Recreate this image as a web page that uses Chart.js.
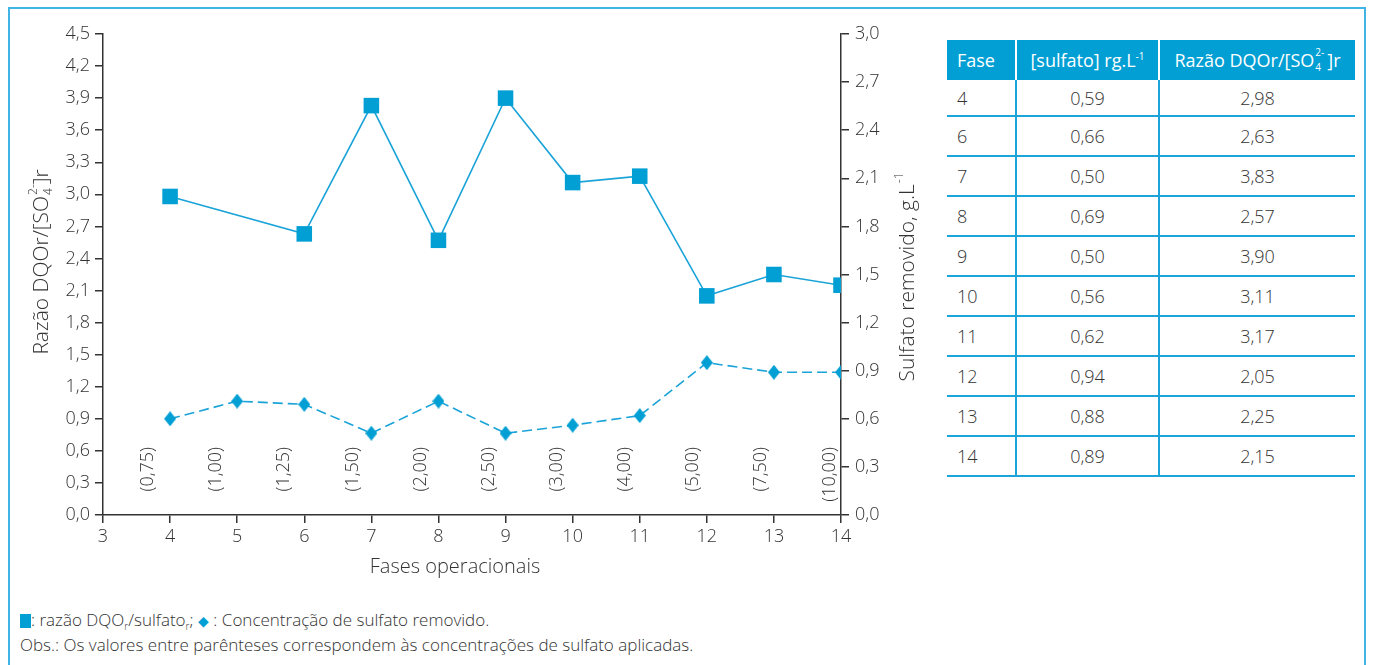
<!DOCTYPE html>
<html><head><meta charset="utf-8">
<script src="https://cdn.jsdelivr.net/npm/chart.js@4.4.1/dist/chart.umd.min.js"></script>
<style>
html,body{margin:0;padding:0;background:#fff;width:1375px;height:665px;overflow:hidden;font-family:"Open Sans",Lato,sans-serif;font-weight:300;color:#333;}
#frame{position:absolute;left:8px;top:7px;width:1358px;height:720px;border:2px solid #40b4e5;box-sizing:border-box;}
#chartBox{position:absolute;left:0;top:0;width:940px;height:600px;}
#tbl{position:absolute;left:947px;top:40px;border-collapse:separate;border-spacing:0;font-size:18px;font-weight:300;color:#333;}
#tbl th{background:#029fd4;color:#fff;font-weight:400;height:40px;padding:0;border-left:2px solid #fff;box-sizing:border-box;text-align:center;white-space:nowrap;}
#tbl th:first-child{border-left:none;text-align:left;padding-left:10px;}
#tbl td{height:40px;padding:0;border-bottom:2px solid #1ba3da;border-left:2px solid #1ba3da;text-align:center;box-sizing:border-box;}
#tbl td:first-child{border-left:none;text-align:left;padding-left:10px;}
#tbl tr.first td{height:37px;}
sup,sub{font-size:10px;line-height:0;position:relative;vertical-align:baseline;}
sup{top:-7px;} sub{top:4px;}
.stack{display:inline-block;position:relative;width:13px;height:10px;}
.stack .a{position:absolute;left:1px;top:-10px;font-size:10px;line-height:10px;}
.stack .b{position:absolute;left:1px;top:5px;font-size:10px;line-height:10px;}
#legend{position:absolute;left:20px;top:608px;font-size:17px;line-height:24px;color:#333;font-weight:300;}
.sq{display:inline-block;width:11px;height:14px;background:#029fd4;vertical-align:-2px;}
.dm{color:#029fd4;font-size:14px;}
</style>
</head><body>
<div id="frame"></div>
<div id="chartBox"><canvas id="c" width="940" height="600"></canvas></div>

<table id="tbl">
<colgroup><col style="width:68px"><col style="width:143px"><col style="width:197px"></colgroup>
<thead><tr><th>Fase</th><th>[sulfato] rg.L<sup>-1</sup></th><th>Razão DQOr/[SO<span class="stack"><span class="a">2-</span><span class="b">4</span></span>]r</th></tr></thead>
<tbody id="tb"></tbody>
</table>

<div id="legend">
<div><span class="sq"></span>: razão DQO<sub>r</sub>/sulfato<sub>r</sub>; <span class="dm">◆</span> : Concentração de sulfato removido.</div>
<div>Obs.: Os valores entre parênteses correspondem às concentrações de sulfato aplicadas.</div>
</div>

<script>
// ---- data ----
const fases = [4, 5, 6, 7, 8, 9, 10, 11, 12, 13, 14];
const razaoFases = [4, 6, 7, 8, 9, 10, 11, 12, 13, 14];
const razaoDQO = [2.98, 2.63, 3.83, 2.57, 3.90, 3.11, 3.17, 2.05, 2.25, 2.15];
const sulfatoRemovido = [0.60, 0.71, 0.69, 0.51, 0.71, 0.51, 0.56, 0.62, 0.95, 0.89, 0.89];
const sulfatoAplicado = ['(0,75)', '(1,00)', '(1,25)', '(1,50)', '(2,00)', '(2,50)', '(3,00)', '(4,00)', '(5,00)', '(7,50)', '(10,00)'];

const tabelaFase = ['4', '6', '7', '8', '9', '10', '11', '12', '13', '14'];
const tabelaSulfato = ['0,59', '0,66', '0,50', '0,69', '0,50', '0,56', '0,62', '0,94', '0,88', '0,89'];
const tabelaRazao = ['2,98', '2,63', '3,83', '2,57', '3,90', '3,11', '3,17', '2,05', '2,25', '2,15'];

// ---- table ----
const tb = document.getElementById('tb');
tabelaFase.forEach((f, i) => {
  const tr = document.createElement('tr');
  if (i === 0) tr.className = 'first';
  [f, tabelaSulfato[i], tabelaRazao[i]].forEach(v => {
    const td = document.createElement('td'); td.textContent = v; tr.appendChild(td);
  });
  tb.appendChild(tr);
});

// ---- chart ----
const BLUE = '#029fd4';
const LINE = '#1aa3d8';
const TXT = '#333';
const FONT = '"Open Sans", Lato, sans-serif';

function diamond(w, h, color) {
  const c = document.createElement('canvas'); c.width = w; c.height = h;
  const g = c.getContext('2d'); g.fillStyle = color;
  g.beginPath(); g.moveTo(w / 2, 0); g.lineTo(w, h / 2); g.lineTo(w / 2, h); g.lineTo(0, h / 2); g.closePath(); g.fill();
  return c;
}
const fmt = v => (Math.round(v * 10) / 10).toFixed(1).replace('.', ',');

function drawRich(ctx, parts, cx, cy, rot, size) {
  ctx.save();
  ctx.translate(cx, cy); ctx.rotate(rot);
  ctx.fillStyle = TXT; ctx.textBaseline = 'middle'; ctx.textAlign = 'left';
  const small = Math.round(size * 0.55);
  let total = 0;
  parts.forEach(p => {
    if (p.t) { ctx.font = `300 ${size}px ${FONT}`; p.w = ctx.measureText(p.t).width; }
    else { ctx.font = `300 ${small}px ${FONT}`; p.w = Math.max(p.sub ? ctx.measureText(p.sub).width : 0, p.sup ? ctx.measureText(p.sup).width : 0) + 1; }
    total += p.w;
  });
  let x = -total / 2;
  parts.forEach(p => {
    if (p.t) { ctx.font = `300 ${size}px ${FONT}`; ctx.fillText(p.t, x, 0); }
    else {
      ctx.font = `300 ${small}px ${FONT}`;
      if (p.sub) ctx.fillText(p.sub, x + 1, size * 0.32);
      if (p.sup) ctx.fillText(p.sup, x + 1, -size * 0.38);
    }
    x += p.w;
  });
  ctx.restore();
}

const extras = {
  id: 'extras',
  afterDatasetsDraw(chart) {
    const ctx = chart.ctx, xs = chart.scales.x, a = chart.chartArea;
    ctx.save();
    ctx.font = `300 18px ${FONT}`; ctx.fillStyle = TXT;
    ctx.textAlign = 'right'; ctx.textBaseline = 'middle';
    sulfatoAplicado.forEach((t, i) => {
      const px = xs.getPixelForValue(fases[i]) - 22 + 1.05 * i;
      ctx.save(); ctx.translate(px, a.bottom - 68); ctx.rotate(-Math.PI / 2); ctx.fillText(t, 0, 0); ctx.restore();
    });
    ctx.restore();
    // axis titles
    drawRich(ctx, [{ t: 'Fases operacionais' }], 455, 567, 0, 20);
    drawRich(ctx, [{ t: 'Razão DQOr/[SO' }, { sub: '4', sup: '2-' }, { t: ']r' }], 42, 262, -Math.PI / 2, 21);
    drawRich(ctx, [{ t: 'Sulfato removido, g.L' }, { sup: '-1' }], 908, 277, -Math.PI / 2, 21);
  }
};

const axisCommon = {
  grid: { display: true, drawOnChartArea: false, drawTicks: true, tickLength: 8, color: TXT, lineWidth: 1.5 },
  border: { display: true, color: TXT, width: 1.5 },
};
const tickFont = { family: FONT, size: 18, weight: 300 };

new Chart(document.getElementById('c'), {
  type: 'line',
  data: {
    datasets: [
      {
        label: 'razão DQOr/sulfator',
        data: razaoFases.map((f, i) => ({ x: f, y: razaoDQO[i] })),
        yAxisID: 'y',
        borderColor: LINE, borderWidth: 1.6,
        pointStyle: 'rect', pointRadius: 11, pointHoverRadius: 11,
        pointBackgroundColor: BLUE, pointBorderColor: BLUE, pointBorderWidth: 0,
        tension: 0,
      },
      {
        label: 'Concentração de sulfato removido',
        data: fases.map((f, i) => ({ x: f, y: sulfatoRemovido[i] })),
        yAxisID: 'y2',
        borderColor: LINE, borderWidth: 1.6, borderDash: [10, 5],
        pointStyle: diamond(12, 15, BLUE), pointRadius: 7,
        tension: 0,
      }
    ]
  },
  options: {
    responsive: false, animation: false, devicePixelRatio: 1,
    layout: { padding: { top: 34, left: 0, right: 0, bottom: 0 } },
    plugins: { legend: { display: false }, tooltip: { enabled: false } },
    scales: {
      x: {
        type: 'linear', min: 3, max: 14,
        ticks: { stepSize: 1, color: TXT, font: tickFont, padding: 3 },
        ...axisCommon,
        afterFit: s => { s.height = 600 - 515; }
      },
      y: {
        position: 'left', min: 0, max: 4.5,
        ticks: { stepSize: 0.3, color: TXT, font: tickFont, padding: 5, callback: v => fmt(v) },
        ...axisCommon,
        afterFit: s => { s.width = 103; }
      },
      y2: {
        position: 'right', min: 0, max: 3.0,
        ticks: { stepSize: 0.3, color: TXT, font: tickFont, padding: 6, callback: v => fmt(v) },
        ...axisCommon,
        afterFit: s => { s.width = 940 - 841; }
      }
    }
  },
  plugins: [extras]
});
</script>
</body></html>
